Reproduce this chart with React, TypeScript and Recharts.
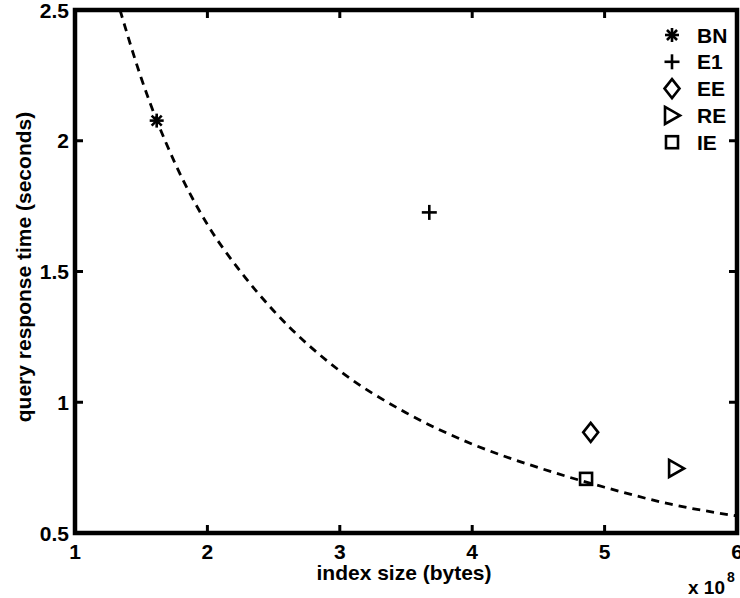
import React from 'react';
import { ComposedChart, Line, Scatter, XAxis, YAxis, Legend, Label, ReferenceLine, ReferenceArea } from 'recharts';

// Dashed fitted curve
const curveX = [1.34, 1.5, 1.75, 2, 2.25, 2.5, 3, 3.5, 4, 4.5, 5, 5.5, 6];
const curveY = [2.5, 2.24, 1.92, 1.68, 1.5, 1.35, 1.12, 0.96, 0.84, 0.75, 0.675, 0.61, 0.565];

// Methods (index size x1e8, query response time s)
const methodNames = ['BN', 'E1', 'EE', 'RE', 'IE'];
const methodSize = [1.617, 3.676, 4.895, 5.54, 4.86];
const methodTime = [2.077, 1.726, 0.885, 0.747, 0.707];

const xTicks = [1, 2, 3, 4, 5, 6];
const yTicks = [0.5, 1, 1.5, 2, 2.5];

const curveData = curveX.map((x, i) => ({ x, y: curveY[i] }));
const seriesData = methodNames.map((name, i) => [{ x: methodSize[i], y: methodTime[i] }]);

const FONT = '"Liberation Sans", Arial, Helvetica, sans-serif';
const FS = 21;
const TICK = 8;

function Marker({ kind, cx, cy }: { kind: string; cx: number; cy: number }) {
  const sw = 2.6;
  const common = { stroke: '#000', strokeWidth: sw, fill: 'none' };
  if (kind === 'BN') {
    const r = 7;
    const d = r * 0.72;
    return (
      <g {...common}>
        <line x1={cx - r} y1={cy} x2={cx + r} y2={cy} />
        <line x1={cx} y1={cy - r} x2={cx} y2={cy + r} />
        <line x1={cx - d} y1={cy - d} x2={cx + d} y2={cy + d} />
        <line x1={cx - d} y1={cy + d} x2={cx + d} y2={cy - d} />
      </g>
    );
  }
  if (kind === 'E1') {
    const r = 7.5;
    return (
      <g {...common}>
        <line x1={cx - r} y1={cy} x2={cx + r} y2={cy} />
        <line x1={cx} y1={cy - r} x2={cx} y2={cy + r} />
      </g>
    );
  }
  if (kind === 'EE') {
    return <polygon {...common} points={`${cx},${cy - 9.5} ${cx + 7.5},${cy} ${cx},${cy + 9.5} ${cx - 7.5},${cy}`} />;
  }
  if (kind === 'RE') {
    return <polygon {...common} points={`${cx - 7},${cy - 8.5} ${cx + 8},${cy} ${cx - 7},${cy + 8.5}`} />;
  }
  return <rect {...common} x={cx - 6} y={cy - 6} width={12} height={12} />;
}

const textStyle = { fontFamily: FONT, fontWeight: 700, fontSize: FS, fill: '#000' } as const;

function BottomTick(props: any) {
  const { x, y, payload } = props;
  return <text x={x} y={y + 26} textAnchor="middle" style={textStyle}>{payload.value}</text>;
}
function LeftTick(props: any) {
  const { x, y, payload } = props;
  return <text x={x - 6} y={y + 7.5} textAnchor="end" style={textStyle}>{payload.value}</text>;
}

// Vertical reference line at an x tick: draw only inward stubs at top and bottom.
function VStubs(p: any) {
  const { x1, y1, x2, y2 } = p;
  const top = Math.min(y1, y2);
  const bot = Math.max(y1, y2);
  return (
    <g stroke="#000" strokeWidth={3}>
      <line x1={x1} y1={top} x2={x1} y2={top + TICK} />
      <line x1={x2} y1={bot} x2={x2} y2={bot - TICK} />
    </g>
  );
}
// Horizontal reference line at a y tick: inward stubs at left and right.
function HStubs(p: any) {
  const { x1, y1, x2, y2 } = p;
  const l = Math.min(x1, x2);
  const r = Math.max(x1, x2);
  return (
    <g stroke="#000" strokeWidth={3}>
      <line x1={l} y1={y1} x2={l + TICK} y2={y1} />
      <line x1={r} y1={y2} x2={r - TICK} y2={y2} />
    </g>
  );
}
function Frame(p: any) {
  const { x, y, width, height } = p;
  return <rect x={x} y={y} width={width} height={height} fill="none" stroke="#000" strokeWidth={4.5} />;
}

function LegendContent(props: any) {
  const items = (props.payload || [])
    .filter((p: any) => methodNames.includes(p.value))
    .sort((a: any, b: any) => methodNames.indexOf(a.value) - methodNames.indexOf(b.value));
  return (
    <svg width={85} height={150} style={{ display: 'block' }}>
      {items.map((p: any, i: number) => {
        const cy = 15 + i * 26.8;
        return (
          <g key={p.value}>
            <Marker kind={p.value} cx={17} cy={cy} />
            <text x={42} y={cy + 7.5} style={textStyle}>{p.value}</text>
          </g>
        );
      })}
    </svg>
  );
}

export default function App() {
  const xDomain: [number, number] = [xTicks[0], xTicks[xTicks.length - 1]];
  const yDomain: [number, number] = [yTicks[0], yTicks[yTicks.length - 1]];
  return (
    <div style={{ position: 'absolute', left: 0, top: 0, width: 740, height: 598, background: '#fff' }}>
      <ComposedChart width={740} height={598} margin={{ top: 10, right: 3, bottom: 0, left: 0 }}>
        <XAxis
          dataKey="x"
          type="number"
          domain={xDomain}
          ticks={xTicks}
          allowDataOverflow
          height={65}
          axisLine={false}
          tickLine={false}
          tickSize={0}
          tickMargin={0}
          tick={<BottomTick />}
          interval={0}
        >
          <Label
            content={() => (
              <g>
                <text x={404} y={580} textAnchor="middle" style={textStyle}>index size (bytes)</text>
                <text x={688} y={594} style={{ ...textStyle, fontSize: 19 }}>x 10</text>
                <text x={727} y={582} style={{ ...textStyle, fontSize: 14 }}>8</text>
              </g>
            )}
          />
        </XAxis>
        <YAxis
          type="number"
          domain={yDomain}
          ticks={yTicks}
          allowDataOverflow
          width={75}
          axisLine={false}
          tickLine={false}
          tickSize={0}
          tickMargin={0}
          tick={<LeftTick />}
          interval={0}
        >
          <Label
            content={() => (
              <text
                x={0}
                y={0}
                transform="translate(31, 267) rotate(-90)"
                textAnchor="middle"
                style={textStyle}
              >
                query response time (seconds)
              </text>
            )}
          />
        </YAxis>
        {xTicks.map((t) => (
          <ReferenceLine key={`vx${t}`} x={t} shape={<VStubs />} ifOverflow="visible" />
        ))}
        {yTicks.map((t) => (
          <ReferenceLine key={`hy${t}`} y={t} shape={<HStubs />} ifOverflow="visible" />
        ))}
        <ReferenceArea
          x1={xDomain[0]}
          x2={xDomain[1]}
          y1={yDomain[0]}
          y2={yDomain[1]}
          shape={<Frame />}
          ifOverflow="visible"
        />
        <Line
          data={curveData}
          dataKey="y"
          type="monotone"
          stroke="#000"
          strokeWidth={2.8}
          strokeDasharray="8 6"
          dot={false}
          activeDot={false}
          legendType="none"
          isAnimationActive={false}
        />
        {methodNames.map((name, i) => (
          <Scatter
            key={name}
            name={name}
            data={seriesData[i]}
            dataKey="y"
            fill="#000"
            shape={(p: any) => <Marker kind={name} cx={p.cx} cy={p.cy} />}
            isAnimationActive={false}
          />
        ))}
        <Legend
          layout="vertical"
          align="center"
          verticalAlign="middle"
          content={<LegendContent />}
          wrapperStyle={{ position: 'absolute', left: 655, top: 20, width: 85, height: 150 }}
        />
      </ComposedChart>
    </div>
  );
}
